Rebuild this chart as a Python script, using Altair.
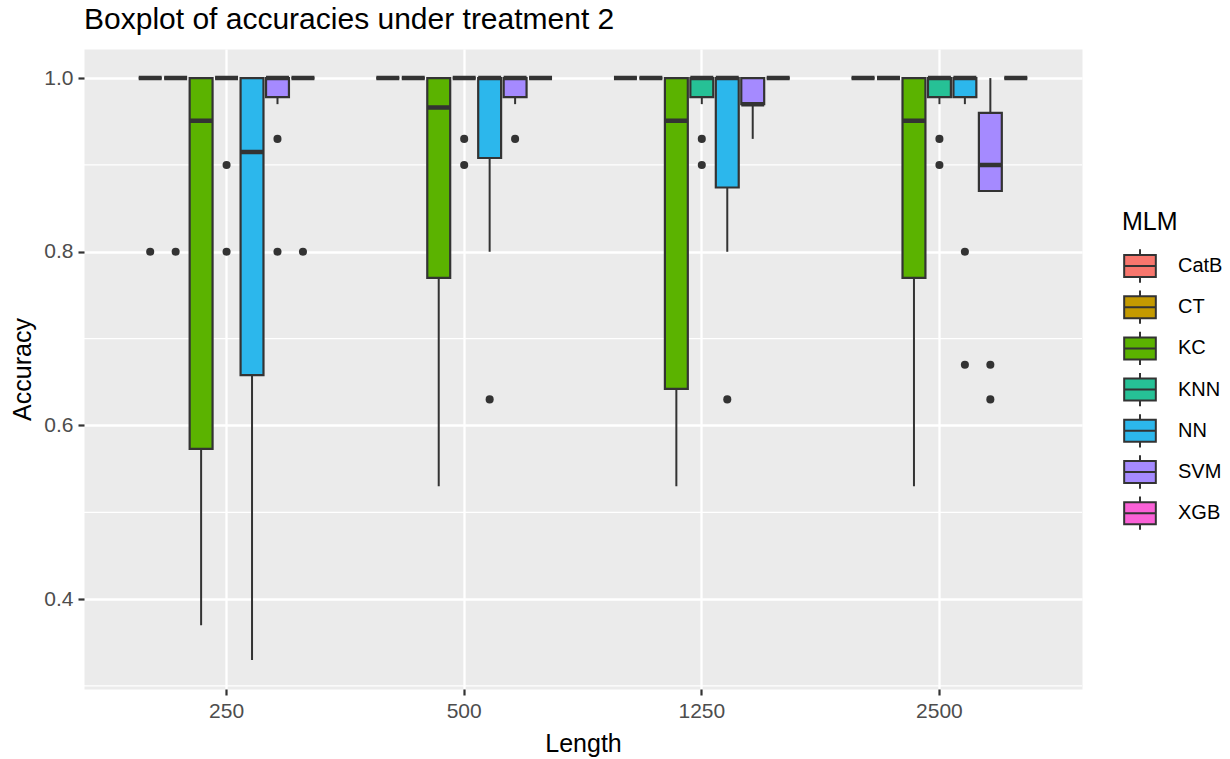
import altair as alt
import pandas as pd

# ---------------- data ----------------
lengths = ["250", "500", "1250", "2500"]
models = ["CatB", "CT", "KC", "KNN", "NN", "SVM", "XGB"]
colors = ["#F8766D", "#C49A00", "#5BB300", "#26C196", "#2CB7EC", "#A58AFF", "#FB61D7"]

# box statistics, one row of 7 models per length
whisker_low = [
    1.0, 1.0, 0.37, 1.0, 0.33, 0.97, 1.0,    # 250
    1.0, 1.0, 0.53, 1.0, 0.80, 0.97, 1.0,    # 500
    1.0, 1.0, 0.53, 0.97, 0.80, 0.93, 1.0,   # 1250
    1.0, 1.0, 0.53, 0.97, 0.97, 0.87, 1.0,   # 2500
]
q1 = [
    1.0, 1.0, 0.573, 1.0, 0.658, 0.978, 1.0,
    1.0, 1.0, 0.770, 1.0, 0.908, 0.978, 1.0,
    1.0, 1.0, 0.642, 0.978, 0.874, 0.970, 1.0,
    1.0, 1.0, 0.770, 0.978, 0.978, 0.870, 1.0,
]
median = [
    1.0, 1.0, 0.951, 1.0, 0.915, 1.0, 1.0,
    1.0, 1.0, 0.966, 1.0, 1.0, 1.0, 1.0,
    1.0, 1.0, 0.951, 1.0, 1.0, 0.970, 1.0,
    1.0, 1.0, 0.951, 1.0, 1.0, 0.900, 1.0,
]
q3 = [
    1.0, 1.0, 1.0, 1.0, 1.0, 1.0, 1.0,
    1.0, 1.0, 1.0, 1.0, 1.0, 1.0, 1.0,
    1.0, 1.0, 1.0, 1.0, 1.0, 1.0, 1.0,
    1.0, 1.0, 1.0, 1.0, 1.0, 0.96, 1.0,
]
whisker_high = [
    1.0, 1.0, 1.0, 1.0, 1.0, 1.0, 1.0,
    1.0, 1.0, 1.0, 1.0, 1.0, 1.0, 1.0,
    1.0, 1.0, 1.0, 1.0, 1.0, 1.0, 1.0,
    1.0, 1.0, 1.0, 1.0, 1.0, 1.0, 1.0,
]

outlier_length = ["250"] * 7 + ["500"] * 4 + ["1250"] * 3 + ["2500"] * 6
outlier_model = ["CatB", "CT", "KNN", "KNN", "SVM", "SVM", "XGB",
                 "KNN", "KNN", "NN", "SVM",
                 "KNN", "KNN", "NN",
                 "KNN", "KNN", "NN", "NN", "SVM", "SVM"]
outlier_value = [0.80, 0.80, 0.90, 0.80, 0.93, 0.80, 0.80,
                 0.93, 0.90, 0.63, 0.93,
                 0.93, 0.90, 0.63,
                 0.93, 0.90, 0.80, 0.67, 0.67, 0.63]

y_breaks = [0.4, 0.6, 0.8, 1.0]
y_minor = [0.3, 0.5, 0.7, 0.9]

# ---------------- tables ----------------
rows = []
for i, L in enumerate(lengths):
    for j, m in enumerate(models):
        k = i * len(models) + j
        rows.append(dict(Length=L, MLM=m, lo=whisker_low[k], q1=q1[k],
                         med=median[k], q3=q3[k], hi=whisker_high[k]))
box_df = pd.DataFrame(rows)
out_df = pd.DataFrame(dict(Length=outlier_length, MLM=outlier_model, Accuracy=outlier_value))
minor_df = pd.DataFrame(dict(Accuracy=y_minor))

all_vals = whisker_low + whisker_high + outlier_value
vmin, vmax = min(all_vals), max(all_vals)
pad = (vmax - vmin) * 0.05
y_scale = alt.Scale(domain=[vmin - pad, vmax + pad], nice=False, zero=False)

FONT = "Liberation Sans"
DARK = "#333333"

x_enc = alt.X("Length:N", sort=lengths,
              scale=alt.Scale(paddingInner=0.25, paddingOuter=0.225),
              axis=alt.Axis(title="Length", labelAngle=0, grid=True,
                            labelPadding=5, titleX=499, titleY=62,
                            titleBaseline="alphabetic"))
xo_enc = alt.XOffset("MLM:N", sort=models,
                     scale=alt.Scale(paddingInner=0.1, paddingOuter=0.05))

def Y(field):
    return alt.Y(field, title="Accuracy", scale=y_scale,
                 axis=alt.Axis(values=y_breaks, format=".1f", grid=True,
                               labelPadding=5, titleX=-62, titleY=320,
                               titleBaseline="middle", titleAngle=270))

legend_path = "M-0.95,-0.66H0.95V0.66H-0.95Z M-0.95,0H0.95 M0,-0.66V-1 M0,0.66V1"

minor = alt.Chart(minor_df).mark_rule(color="white", strokeWidth=1.2).encode(
    y=Y("Accuracy:Q")
)

whisk = alt.Chart(box_df).mark_rule(color=DARK, strokeWidth=2.0).encode(
    x=x_enc, xOffset=xo_enc, y=Y("lo:Q"), y2="hi:Q"
)

boxes = alt.Chart(box_df).mark_bar(stroke=DARK, strokeWidth=2.2, opacity=1).encode(
    x=x_enc, xOffset=xo_enc, y=Y("q1:Q"), y2="q3:Q",
    fill=alt.Fill("MLM:N", sort=models,
                  scale=alt.Scale(domain=models, range=colors),
                  legend=alt.Legend(title="MLM", orient="none", legendX=1038, legendY=161,
                                    symbolType=legend_path, symbolSize=1110,
                                    symbolStrokeColor=DARK, symbolStrokeWidth=2.0,
                                    symbolOpacity=1,
                                    titleFont=FONT, titleFontSize=25, titleFontWeight="normal",
                                    titleColor="black", titlePadding=13,
                                    labelFont=FONT, labelFontSize=20, labelColor="black",
                                    labelOffset=20, rowPadding=-0.8, padding=0))
)

meds = alt.Chart(box_df).mark_bar(stroke=DARK, strokeWidth=4.5, fillOpacity=0).encode(
    x=x_enc, xOffset=xo_enc, y=Y("med:Q"), y2="med:Q"
)

pts = alt.Chart(out_df).mark_circle(color=DARK, size=65, opacity=1).encode(
    x=x_enc, xOffset=xo_enc, y=Y("Accuracy:Q")
)

chart = alt.layer(minor, whisk, boxes, meds, pts).properties(
    width=998, height=640,
    title=alt.Title("Boxplot of accuracies under treatment 2", anchor="start",
                    frame="group", font=FONT, fontSize=30, fontWeight="normal",
                    color="black", baseline="alphabetic", offset=-10),
    autosize=alt.AutoSizeParams(type="none"),
    padding={"left": 84, "top": 49, "right": 148, "bottom": 70},
    background="white",
).configure_axis(
    domain=False, labelFont=FONT, labelFontSize=21, labelColor="#4D4D4D",
    tickColor=DARK, tickWidth=2.2, tickSize=6,
    titleFont=FONT, titleFontSize=25, titleFontWeight="normal", titleColor="black",
    gridColor="white", gridWidth=2.3,
).configure_view(fill="#EBEBEB", stroke="transparent")

chart.save("out.html", embed_options={"renderer": "svg", "actions": False})
